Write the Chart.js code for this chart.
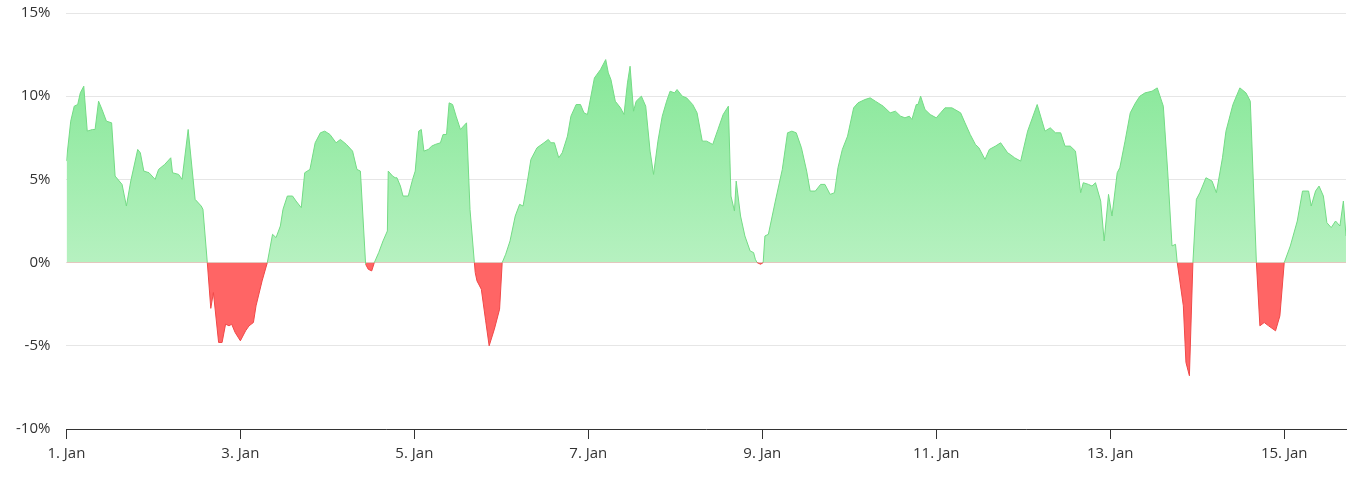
<!DOCTYPE html>
<html>
<head>
<meta charset="utf-8">
<script src="https://cdn.jsdelivr.net/npm/chart.js@4"></script>
<style>
  html, body { margin: 0; padding: 0; background: #fff; overflow: hidden; }
  #wrap { width: 1353px; height: 496px; margin-top: -12px; }
</style>
</head>
<body>
<div id="wrap"><canvas id="chart"></canvas></div>
<script>
// day of January (decimal) and percent change
const days = [
  1.00, 1.05, 1.09, 1.13, 1.16, 1.20, 1.24, 1.30, 1.33, 1.37, 1.41, 1.46, 1.52, 1.56, 1.64, 1.69, 1.74, 1.82, 1.85, 1.89,
  1.95, 2.02, 2.06, 2.13, 2.20, 2.22, 2.29, 2.33, 2.40, 2.48, 2.55, 2.57, 2.62, 2.66, 2.69, 2.75, 2.79, 2.83, 2.87, 2.90,
  2.94, 3.00, 3.06, 3.10, 3.15, 3.18, 3.25, 3.31, 3.37, 3.41, 3.46, 3.49, 3.54, 3.60, 3.64, 3.70, 3.74, 3.80, 3.86, 3.92,
  3.97, 4.03, 4.10, 4.15, 4.22, 4.29, 4.34, 4.38, 4.44, 4.47, 4.51, 4.54, 4.59, 4.64, 4.69, 4.70, 4.75, 4.78, 4.80, 4.84,
  4.87, 4.93, 4.98, 5.01, 5.05, 5.08, 5.11, 5.16, 5.20, 5.24, 5.30, 5.33, 5.37, 5.40, 5.44, 5.48, 5.53, 5.60, 5.64, 5.69,
  5.70, 5.72, 5.77, 5.82, 5.86, 5.92, 5.98, 6.01, 6.05, 6.10, 6.16, 6.21, 6.25, 6.30, 6.34, 6.41, 6.49, 6.54, 6.57, 6.61,
  6.66, 6.70, 6.76, 6.80, 6.86, 6.91, 6.95, 6.99, 7.03, 7.07, 7.14, 7.20, 7.23, 7.26, 7.31, 7.37, 7.41, 7.45, 7.48, 7.52,
  7.55, 7.61, 7.66, 7.71, 7.75, 7.80, 7.85, 7.90, 7.94, 7.99, 8.02, 8.08, 8.13, 8.20, 8.25, 8.31, 8.36, 8.43, 8.49, 8.55,
  8.61, 8.64, 8.68, 8.70, 8.75, 8.80, 8.86, 8.90, 8.92, 8.94, 8.98, 9.01, 9.03, 9.07, 9.15, 9.23, 9.29, 9.34, 9.39, 9.45,
  9.51, 9.55, 9.61, 9.67, 9.72, 9.78, 9.83, 9.87, 9.92, 9.98, 10.05, 10.10, 10.18, 10.24, 10.30, 10.39, 10.47, 10.53, 10.59, 10.64,
  10.69, 10.72, 10.77, 10.79, 10.82, 10.87, 10.93, 11.00, 11.05, 11.10, 11.18, 11.28, 11.33, 11.39, 11.45, 11.49, 11.56, 11.61, 11.68, 11.74,
  11.82, 11.85, 11.90, 11.97, 12.05, 12.16, 12.25, 12.31, 12.37, 12.43, 12.48, 12.54, 12.60, 12.66, 12.69, 12.75, 12.79, 12.83, 12.89, 12.93,
  12.98, 13.02, 13.08, 13.11, 13.17, 13.23, 13.29, 13.34, 13.40, 13.48, 13.54, 13.61, 13.66, 13.71, 13.75, 13.77, 13.84, 13.87, 13.91, 13.95,
  13.99, 14.03, 14.10, 14.17, 14.22, 14.29, 14.33, 14.41, 14.49, 14.56, 14.61, 14.68, 14.72, 14.77, 14.82, 14.90, 14.95, 15.00, 15.07, 15.15,
  15.21, 15.28, 15.31, 15.36, 15.40, 15.45, 15.49, 15.54, 15.59, 15.64, 15.68, 15.71
];
const change = [
  6.1, 8.5, 9.4, 9.5, 10.2, 10.6, 7.9, 8.0, 8.0, 9.7, 9.2, 8.5, 8.4, 5.2, 4.7, 3.4, 4.9, 6.8, 6.6, 5.5,
  5.4, 5.0, 5.6, 5.9, 6.3, 5.4, 5.3, 5.0, 8.0, 3.8, 3.4, 3.2, 0, -2.75, -1.8, -4.8, -4.8, -3.7, -3.8, -3.7,
  -4.2, -4.7, -4.1, -3.8, -3.6, -2.6, -1.1, 0, 1.7, 1.5, 2.2, 3.2, 4.0, 4.0, 3.7, 3.3, 5.4, 5.6, 7.2, 7.8,
  7.9, 7.7, 7.2, 7.4, 7.1, 6.7, 5.6, 5.5, -0.1, -0.4, -0.5, 0, 0.6, 1.3, 1.9, 5.5, 5.2, 5.1, 5.1, 4.6,
  4.0, 4.0, 5.0, 5.5, 7.9, 8.0, 6.7, 6.8, 7.0, 7.1, 7.2, 7.7, 7.7, 9.6, 9.5, 8.8, 8.0, 8.4, 3.2, 0,
  -0.6, -1.1, -1.6, -3.5, -5.0, -4.0, -2.8, 0, 0.5, 1.3, 2.8, 3.5, 3.4, 4.9, 6.2, 6.9, 7.2, 7.4, 7.2, 7.2,
  6.3, 6.6, 7.6, 8.8, 9.5, 9.5, 9.0, 8.9, 10.0, 11.1, 11.6, 12.2, 11.4, 11.0, 9.7, 9.3, 8.9, 10.8, 11.8, 9.1,
  9.7, 10.0, 9.4, 6.7, 5.3, 7.3, 8.8, 9.7, 10.3, 10.2, 10.4, 10.0, 9.9, 9.5, 9.0, 7.3, 7.3, 7.1, 8.0, 8.9,
  9.4, 4.0, 3.1, 4.9, 2.8, 1.6, 0.7, 0.6, 0.2, 0, -0.1, 0, 1.6, 1.7, 3.7, 5.6, 7.8, 7.9, 7.8, 6.9,
  5.5, 4.3, 4.3, 4.7, 4.7, 4.1, 4.2, 5.7, 6.8, 7.6, 9.3, 9.6, 9.8, 9.9, 9.7, 9.4, 9.0, 9.1, 8.8, 8.7,
  8.8, 8.6, 9.5, 9.5, 10.0, 9.2, 8.9, 8.7, 9.0, 9.3, 9.3, 9.0, 8.4, 7.7, 7.1, 6.9, 6.2, 6.8, 7.0, 7.2,
  6.6, 6.5, 6.3, 6.1, 7.9, 9.5, 7.9, 8.1, 7.8, 7.8, 7.0, 7.0, 6.7, 4.2, 4.8, 4.7, 4.6, 4.8, 3.7, 1.3,
  4.1, 2.8, 5.4, 5.7, 7.3, 9.0, 9.6, 10.0, 10.2, 10.3, 10.5, 9.4, 5.5, 1.0, 1.1, 0, -2.6, -6.0, -6.8, 0,
  3.8, 4.2, 5.1, 4.9, 4.2, 6.3, 7.9, 9.5, 10.5, 10.2, 9.7, 0, -3.8, -3.6, -3.8, -4.1, -3.2, 0, 1.0, 2.5,
  4.3, 4.3, 3.4, 4.3, 4.6, 4.0, 2.4, 2.1, 2.5, 2.2, 3.7, 1.6
];
const yTicks = [-10, -5, 0, 5, 10, 15];
const xTicks = [1, 3, 5, 7, 9, 11, 13, 15];

const points = days.map((d, i) => ({ x: d, y: change[i] }));

function greenFill(context) {
    const chart = context.chart;
    const area = chart.chartArea;
    if (!area) return 'rgba(140,232,155,0.9)';
    const y = chart.scales.y;
    const g = chart.ctx.createLinearGradient(0, y.getPixelForValue(12.5), 0, y.getPixelForValue(0));
    g.addColorStop(0, '#84e796');
    g.addColorStop(1, '#b6f1c0');
    return g;
}

const config = {
    type: 'line',
    data: {
        datasets: [{
            data: points,
            borderWidth: 1,
            borderColor: '#74db85',
            segment: {
                borderColor: ctx => (ctx.p0.parsed.y + ctx.p1.parsed.y < 0) ? '#f04848' : '#74db85'
            },
            backgroundColor: greenFill,
            fill: { target: { value: 0 }, below: '#ff6565' },
            pointRadius: 0,
            tension: 0
        }]
    },
    options: {
        responsive: true,
        maintainAspectRatio: false,
        animation: false,
        layout: { padding: { top: 0, right: 7, left: 0, bottom: 15 } },
        plugins: {
            legend: { display: false },
            tooltip: { enabled: false }
        },
        scales: {
            x: {
                type: 'linear',
                min: 1,
                max: 15.71,
                afterBuildTicks: axis => { axis.ticks = xTicks.map(v => ({ value: v })); },
                ticks: {
                    color: '#333',
                    font: { family: 'Open Sans', size: 15 },
                    padding: 6,
                    maxRotation: 0,
                    callback: v => v + '. Jan'
                },
                grid: { drawOnChartArea: false, drawTicks: true, tickLength: 10, color: '#333' },
                border: { color: '#333', width: 1 }
            },
            y: {
                min: -10,
                max: 15,
                afterBuildTicks: axis => { axis.ticks = yTicks.map(v => ({ value: v })); },
                ticks: {
                    color: '#333',
                    font: { family: 'Open Sans', size: 15 },
                    padding: 16,
                    callback: v => v + '%'
                },
                grid: { color: '#e6e6e6', drawTicks: false },
                border: { display: false }
            }
        }
    }
};

new Chart(document.getElementById('chart'), config);
</script>
</body>
</html>
